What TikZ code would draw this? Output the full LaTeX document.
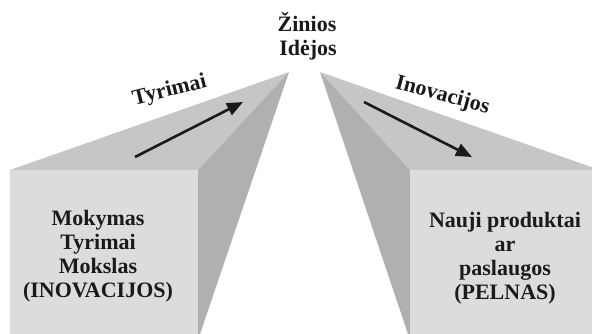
\documentclass[tikz,border=0pt]{standalone}
\usepackage{fontspec}
\setmainfont{Liberation Serif}
\usetikzlibrary{arrows.meta}
\definecolor{topface}{HTML}{C6C6C6}
\definecolor{sideface}{HTML}{B0B0B0}
\definecolor{frontface}{HTML}{DCDCDC}
\definecolor{ink}{HTML}{1A1A1A}
\begin{document}
\begin{tikzpicture}[x=1pt,y=-1pt,
  labeltext/.style={font=\bfseries\fontsize{22}{24}\selectfont, text=ink, align=center, inner sep=0pt},
  flow/.style={line width=2.6pt, draw=ink, -{Triangle[length=16pt,width=13pt]}}]
\useasboundingbox (0,0) rectangle (592,333);
\clip (0,0) rectangle (592,333);

% left block: top face, side face, front face
\coordinate (LA) at (289,72);
\coordinate (LTL) at (10,170);
\coordinate (LTR) at (198,170);
\coordinate (LBR) at (198,340);
\fill[topface] (LTL) -- (LA) -- (LTR) -- cycle;
\fill[sideface] (LA) -- (LTR) -- (LBR) -- cycle;
\fill[frontface] (LTL) rectangle (LBR);

% right block
\coordinate (RA) at (320,72);
\coordinate (RTL) at (410,170);
\coordinate (RTR) at (600,170);
\coordinate (RBL) at (410,340);
\coordinate (RBR) at (600,340);
\fill[topface] (RTR) -- (RA) -- (RTL) -- cycle;
\fill[sideface] (RA) -- (RTL) -- (RBL) -- cycle;
\fill[frontface] (RTL) rectangle (RBR);

% apex labels
\node[labeltext, anchor=base] (zin) at (307,31) {Žinios};
\node[labeltext, anchor=base] (ide) at (308,55) {Idėjos};

% flow arrows on the top faces
\coordinate (t1s) at (135,157);
\coordinate (t1e) at (243,102);
\draw[flow] (t1s) -- (t1e);
\coordinate (t2s) at (364,102);
\coordinate (t2e) at (472,157);
\draw[flow] (t2s) -- (t2e);

\node[labeltext, anchor=base, rotate=14] (tyr) at (171,96) {Tyrimai};
\node[labeltext, anchor=base, rotate=-15] (ino) at (441,101) {Inovacijos};

% front face texts
\node[labeltext] (left) at (98,256) {Mokymas\\Tyrimai\\Mokslas\\(INOVACIJOS)};
\node[labeltext] (right) at (505,258) {Nauji produktai\\ar\\paslaugos\\(PELNAS)};
\end{tikzpicture}
\end{document}
